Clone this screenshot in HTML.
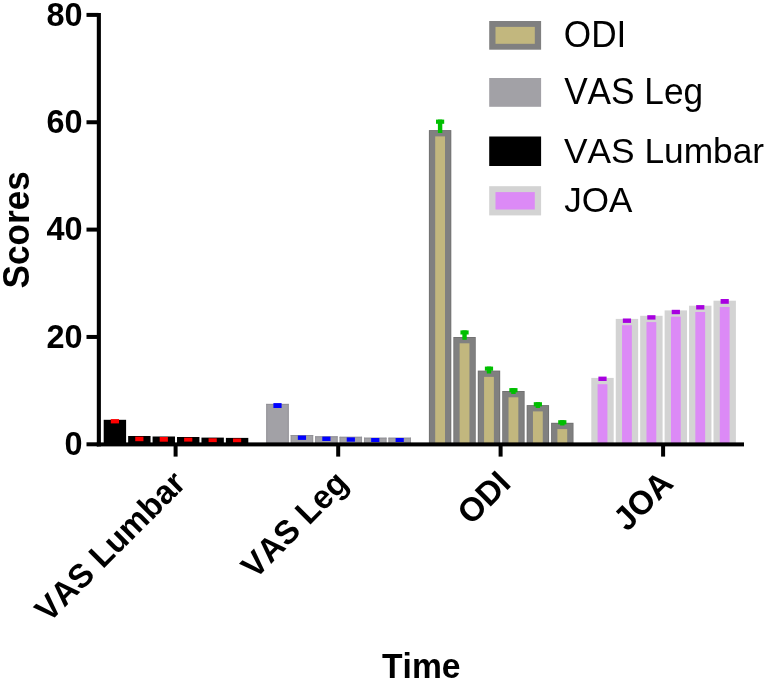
<!DOCTYPE html><html><head><meta charset="utf-8"><style>html,body{margin:0;padding:0;background:#fff;overflow:hidden;}svg{display:block;will-change:transform;}text{font-family:"Liberation Sans",sans-serif;font-kerning:none;}</style></head><body>
<svg width="766" height="682" viewBox="0 0 766 682">
<rect x="0" y="0" width="766" height="682" fill="#fff"/>
<rect x="103.70" y="419.80" width="22.40" height="24.50" fill="#000000"/>
<rect x="110.80" y="419.10" width="8.20" height="4.30" fill="#ff0000"/>
<rect x="128.14" y="436.00" width="22.40" height="8.30" fill="#000000"/>
<rect x="135.24" y="436.70" width="8.20" height="4.50" fill="#ff0000"/>
<rect x="152.58" y="436.50" width="22.40" height="7.80" fill="#000000"/>
<rect x="159.68" y="437.00" width="8.20" height="4.70" fill="#ff0000"/>
<rect x="177.02" y="437.00" width="22.40" height="7.30" fill="#000000"/>
<rect x="184.12" y="437.70" width="8.20" height="3.90" fill="#ff0000"/>
<rect x="201.46" y="437.60" width="22.40" height="6.70" fill="#000000"/>
<rect x="208.56" y="438.30" width="8.20" height="4.00" fill="#ff0000"/>
<rect x="225.90" y="437.90" width="22.40" height="6.40" fill="#000000"/>
<rect x="233.00" y="438.50" width="8.20" height="4.00" fill="#ff0000"/>
<rect x="266.30" y="403.90" width="22.40" height="40.40" fill="#a2a1a6"/>
<rect x="266.30" y="403.90" width="22.40" height="1.00" fill="#939297"/>
<rect x="266.30" y="403.90" width="0.90" height="40.40" fill="#939297"/>
<rect x="287.80" y="403.90" width="0.90" height="40.40" fill="#939297"/>
<rect x="273.40" y="403.10" width="8.20" height="4.90" fill="#0000ff"/>
<rect x="290.74" y="435.00" width="22.40" height="9.30" fill="#a2a1a6"/>
<rect x="290.74" y="435.00" width="22.40" height="1.00" fill="#939297"/>
<rect x="290.74" y="435.00" width="0.90" height="9.30" fill="#939297"/>
<rect x="312.24" y="435.00" width="0.90" height="9.30" fill="#939297"/>
<rect x="297.84" y="435.50" width="8.20" height="4.40" fill="#0000ff"/>
<rect x="315.18" y="436.30" width="22.40" height="8.00" fill="#a2a1a6"/>
<rect x="315.18" y="436.30" width="22.40" height="1.00" fill="#939297"/>
<rect x="315.18" y="436.30" width="0.90" height="8.00" fill="#939297"/>
<rect x="336.68" y="436.30" width="0.90" height="8.00" fill="#939297"/>
<rect x="322.28" y="436.60" width="8.20" height="4.40" fill="#0000ff"/>
<rect x="339.62" y="436.80" width="22.40" height="7.50" fill="#a2a1a6"/>
<rect x="339.62" y="436.80" width="22.40" height="1.00" fill="#939297"/>
<rect x="339.62" y="436.80" width="0.90" height="7.50" fill="#939297"/>
<rect x="361.12" y="436.80" width="0.90" height="7.50" fill="#939297"/>
<rect x="346.72" y="437.40" width="8.20" height="4.30" fill="#0000ff"/>
<rect x="364.06" y="437.70" width="22.40" height="6.60" fill="#a2a1a6"/>
<rect x="364.06" y="437.70" width="22.40" height="1.00" fill="#939297"/>
<rect x="364.06" y="437.70" width="0.90" height="6.60" fill="#939297"/>
<rect x="385.56" y="437.70" width="0.90" height="6.60" fill="#939297"/>
<rect x="371.16" y="438.00" width="8.20" height="4.00" fill="#0000ff"/>
<rect x="388.50" y="437.70" width="22.40" height="6.60" fill="#a2a1a6"/>
<rect x="388.50" y="437.70" width="22.40" height="1.00" fill="#939297"/>
<rect x="388.50" y="437.70" width="0.90" height="6.60" fill="#939297"/>
<rect x="410.00" y="437.70" width="0.90" height="6.60" fill="#939297"/>
<rect x="395.60" y="438.00" width="8.20" height="4.00" fill="#0000ff"/>
<rect x="428.90" y="130.10" width="22.40" height="314.20" fill="#6f6f6f"/>
<rect x="429.70" y="130.90" width="20.80" height="313.40" fill="#808080"/>
<rect x="435.20" y="136.40" width="9.80" height="307.90" fill="#c2b77e"/>
<rect x="436.00" y="119.60" width="8.20" height="4.20" fill="#00bf00"/>
<rect x="437.90" y="119.60" width="4.40" height="13.40" fill="#00bf00"/>
<rect x="453.34" y="337.00" width="22.40" height="107.30" fill="#6f6f6f"/>
<rect x="454.14" y="337.80" width="20.80" height="106.50" fill="#808080"/>
<rect x="459.64" y="343.30" width="9.80" height="101.00" fill="#c2b77e"/>
<rect x="460.44" y="330.40" width="8.20" height="4.10" fill="#00bf00"/>
<rect x="462.34" y="330.40" width="4.40" height="9.40" fill="#00bf00"/>
<rect x="477.78" y="370.60" width="22.40" height="73.70" fill="#6f6f6f"/>
<rect x="478.58" y="371.40" width="20.80" height="72.90" fill="#808080"/>
<rect x="484.08" y="376.90" width="9.80" height="67.40" fill="#c2b77e"/>
<rect x="484.88" y="366.60" width="8.20" height="4.10" fill="#00bf00"/>
<rect x="486.78" y="366.60" width="4.40" height="6.90" fill="#00bf00"/>
<rect x="502.22" y="391.00" width="22.40" height="53.30" fill="#6f6f6f"/>
<rect x="503.02" y="391.80" width="20.80" height="52.50" fill="#808080"/>
<rect x="508.52" y="397.30" width="9.80" height="47.00" fill="#c2b77e"/>
<rect x="509.32" y="388.10" width="8.20" height="4.20" fill="#00bf00"/>
<rect x="511.22" y="388.10" width="4.40" height="5.90" fill="#00bf00"/>
<rect x="526.66" y="405.10" width="22.40" height="39.20" fill="#6f6f6f"/>
<rect x="527.46" y="405.90" width="20.80" height="38.40" fill="#808080"/>
<rect x="532.96" y="411.40" width="9.80" height="32.90" fill="#c2b77e"/>
<rect x="533.76" y="402.20" width="8.20" height="4.20" fill="#00bf00"/>
<rect x="535.66" y="402.20" width="4.40" height="5.80" fill="#00bf00"/>
<rect x="551.10" y="422.80" width="22.40" height="21.50" fill="#6f6f6f"/>
<rect x="551.90" y="423.60" width="20.80" height="20.70" fill="#808080"/>
<rect x="557.40" y="429.10" width="9.80" height="15.20" fill="#c2b77e"/>
<rect x="558.20" y="420.20" width="8.20" height="4.20" fill="#00bf00"/>
<rect x="560.10" y="420.20" width="4.40" height="5.30" fill="#00bf00"/>
<rect x="591.30" y="377.90" width="22.40" height="66.40" fill="#d3d3d3"/>
<rect x="597.60" y="384.20" width="9.80" height="60.10" fill="#dc8af6"/>
<rect x="598.40" y="376.60" width="8.20" height="4.40" fill="#a800e0"/>
<rect x="615.74" y="318.90" width="22.40" height="125.40" fill="#d3d3d3"/>
<rect x="622.04" y="325.20" width="9.80" height="119.10" fill="#dc8af6"/>
<rect x="622.84" y="318.50" width="8.20" height="4.40" fill="#a800e0"/>
<rect x="640.18" y="315.80" width="22.40" height="128.50" fill="#d3d3d3"/>
<rect x="646.48" y="322.10" width="9.80" height="122.20" fill="#dc8af6"/>
<rect x="647.28" y="315.20" width="8.20" height="4.40" fill="#a800e0"/>
<rect x="664.62" y="310.40" width="22.40" height="133.90" fill="#d3d3d3"/>
<rect x="670.92" y="316.70" width="9.80" height="127.60" fill="#dc8af6"/>
<rect x="671.72" y="309.80" width="8.20" height="4.40" fill="#a800e0"/>
<rect x="689.06" y="305.70" width="22.40" height="138.60" fill="#d3d3d3"/>
<rect x="695.36" y="312.00" width="9.80" height="132.30" fill="#dc8af6"/>
<rect x="696.16" y="305.10" width="8.20" height="4.40" fill="#a800e0"/>
<rect x="713.50" y="300.70" width="22.40" height="143.60" fill="#d3d3d3"/>
<rect x="719.80" y="307.00" width="9.80" height="137.30" fill="#dc8af6"/>
<rect x="720.60" y="299.00" width="8.20" height="4.80" fill="#a800e0"/>
<rect x="96.80" y="13.00" width="4.10" height="433.40" fill="#000"/>
<rect x="96.80" y="442.40" width="647.20" height="4.00" fill="#000"/>
<rect x="86.50" y="12.90" width="12.00" height="4.00" fill="#000"/>
<text x="0" y="0" font-size="32" font-weight="bold" transform="translate(46.47,25.59) scale(1.0140,1.0330)">80</text>
<rect x="86.50" y="120.25" width="12.00" height="4.00" fill="#000"/>
<text x="0" y="0" font-size="32" font-weight="bold" transform="translate(46.47,132.94) scale(1.0140,1.0330)">60</text>
<rect x="86.50" y="227.60" width="12.00" height="4.00" fill="#000"/>
<text x="0" y="0" font-size="32" font-weight="bold" transform="translate(46.47,240.29) scale(1.0140,1.0387)">40</text>
<rect x="86.50" y="334.95" width="12.00" height="4.00" fill="#000"/>
<text x="0" y="0" font-size="32" font-weight="bold" transform="translate(46.47,347.64) scale(1.0140,1.0387)">20</text>
<rect x="86.50" y="442.30" width="12.00" height="4.00" fill="#000"/>
<text x="0" y="0" font-size="32" font-weight="bold" transform="translate(64.47,454.99) scale(1.0140,1.0387)">0</text>
<rect x="173.60" y="444.00" width="4.00" height="12.60" fill="#000"/>
<rect x="336.20" y="444.00" width="4.00" height="12.60" fill="#000"/>
<rect x="498.60" y="444.00" width="4.00" height="12.60" fill="#000"/>
<rect x="661.10" y="444.00" width="4.00" height="12.60" fill="#000"/>
<text x="0" y="0" font-size="32" font-weight="bold" text-anchor="end" transform="translate(187.30,485.00) rotate(-45) scale(1.02,1.04)">VAS Lumbar</text>
<text x="0" y="0" font-size="32" font-weight="bold" text-anchor="end" transform="translate(349.90,485.00) rotate(-45) scale(1.02,1.04)">VAS Leg</text>
<text x="0" y="0" font-size="32" font-weight="bold" text-anchor="end" transform="translate(512.30,485.00) rotate(-45) scale(1.02,1.04)">ODI</text>
<text x="0" y="0" font-size="32" font-weight="bold" text-anchor="end" transform="translate(674.80,485.00) rotate(-45) scale(1.02,1.04)">JOA</text>
<text x="0" y="0" font-size="35" font-weight="bold" transform="translate(29.40,288.40) rotate(-90) scale(1.0048,1.0788)">Scores</text>
<text x="0" y="0" font-size="35" font-weight="bold" transform="translate(382.04,678.13) scale(0.9610,0.9981)">Time</text>
<rect x="489.20" y="21.00" width="51.90" height="28.70" fill="#808080"/>
<rect x="495.50" y="26.90" width="39.30" height="16.90" fill="#c2b77e"/>
<rect x="489.20" y="78.00" width="51.90" height="28.80" fill="#a2a1a6"/>
<rect x="489.20" y="136.50" width="51.90" height="29.50" fill="#000000"/>
<rect x="489.20" y="186.20" width="51.90" height="29.20" fill="#d3d3d3"/>
<rect x="495.50" y="192.10" width="39.30" height="17.40" fill="#dc8af6"/>
<text x="0" y="0" font-size="35" font-weight="normal" transform="translate(563.77,46.81) scale(1.0057,1.0384)">ODI</text>
<text x="0" y="0" font-size="35" font-weight="normal" transform="translate(564.15,104.06) scale(1.0057,1.0403)">VAS Leg</text>
<text x="0" y="0" font-size="35" font-weight="normal" transform="translate(563.95,162.63) scale(1.0090,0.9942)">VAS Lumbar</text>
<text x="0" y="0" font-size="35" font-weight="normal" transform="translate(564.17,211.82) scale(1.0019,1.0101)">JOA</text>
</svg></body></html>
